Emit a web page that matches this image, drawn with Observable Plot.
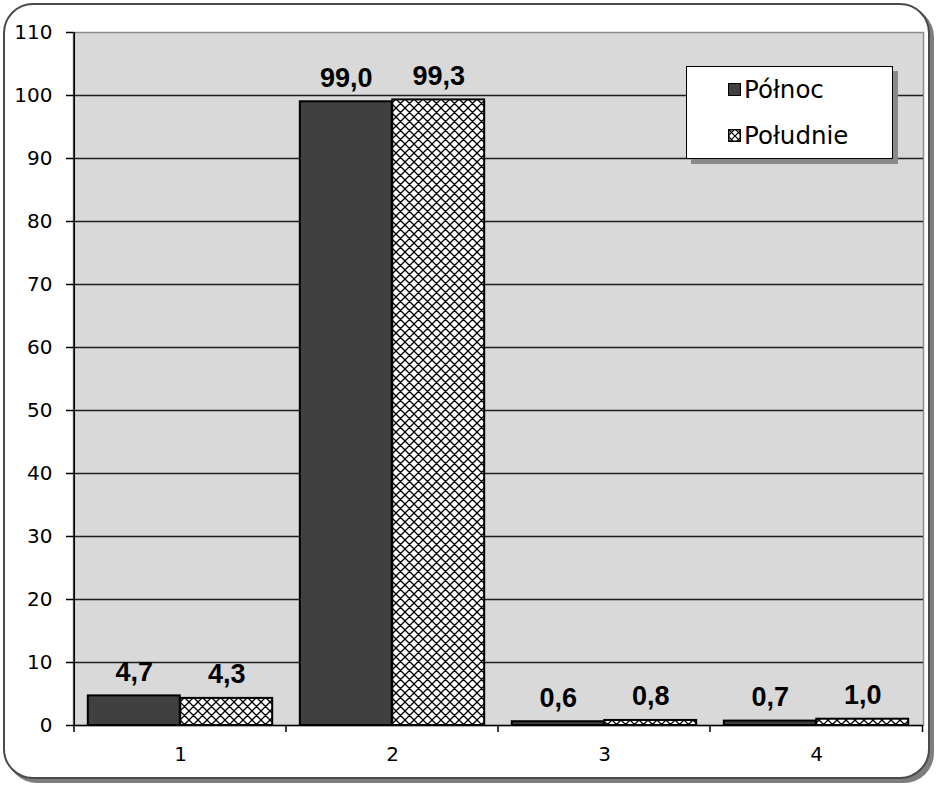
<!DOCTYPE html>
<html>
<head>
<meta charset="utf-8">
<script src="https://cdn.jsdelivr.net/npm/d3@7"></script>
<script src="https://cdn.jsdelivr.net/npm/@observablehq/plot@0.6"></script>
<style>
  body { margin: 0; background: #fff; font-family: "DejaVu Sans", sans-serif; }
  #wrap { position: relative; width: 941px; height: 789px; overflow: hidden; }
  #frame { position: absolute; left: 3px; top: 3px; width: 927px; height: 776px; box-sizing: border-box;
           border: 2px solid #4a4a4a; border-radius: 30px; background: #fff; box-shadow: 4px 4px 0 #7d7d7d; }
  #chart { position: absolute; left: 0; top: 0; }
  #legend { position: absolute; left: 686px; top: 66px; width: 207px; height: 93px; box-sizing: border-box;
            background: #fff; border: 1.5px solid #000; box-shadow: 5px 5px 0 #8a8a8a; }
  .row { position: absolute; left: 41px; height: 30px; display: flex; align-items: center;
         font-size: 24.5px; color: #000; }
  .sw { width: 13px; height: 13px; box-sizing: border-box; border: 1.5px solid #000; margin-right: 3px; }
</style>
</head>
<body>
<div id="wrap">
  <div id="frame"></div>
  <div id="chart"></div>
  <div id="legend"></div>
</div>
<script>
// ---- data ----
const categories = ["1", "2", "3", "4"];
const series = ["Północ", "Południe"];
const polnoc = [4.7, 99.0, 0.6, 0.7];
const poludnie = [4.3, 99.3, 0.8, 1.0];
const yTicks = [0, 10, 20, 30, 40, 50, 60, 70, 80, 90, 100, 110];

const data = [];
categories.forEach((c, i) => {
  data.push({cat: c, series: series[0], value: polnoc[i]});
  data.push({cat: c, series: series[1], value: poludnie[i]});
});

// ---- layout ----
const W = 941, H = 789, ml = 73, mr = 18, mt = 32, mb = 64;
const step = (W - ml - mr) / categories.length;
const gap = step * 0.065;
const barW = (step - 2 * gap) / 2;
const fmt = v => d3.format(".1f")(v).replace(".", ",");

const north = data.filter(d => d.series === series[0]);
const south = data.filter(d => d.series === series[1]);

const plot = Plot.plot({
  width: W, height: H,
  marginLeft: ml, marginRight: mr, marginTop: mt, marginBottom: mb,
  style: {background: "transparent", fontFamily: "'DejaVu Sans', sans-serif", fontSize: "20px", color: "#000"},
  x: {domain: categories, padding: 0, label: null, axis: null},
  y: {domain: [0, 110], label: null, axis: null},
  marks: [
    Plot.frame({fill: "#d9d9d9", stroke: "#8c8c8c", strokeWidth: 1.5}),
    Plot.ruleY(yTicks.filter(t => t > 0 && t < 110), {stroke: "#1e1e1e", strokeWidth: 1.4}),
    Plot.barY(north, {x: "cat", y: "value", fill: "#404040", stroke: "#000", strokeWidth: 2,
      insetLeft: gap, insetRight: gap + barW}),
    Plot.barY(south, {x: "cat", y: "value", fill: "url(#xhatch)", stroke: "#000", strokeWidth: 2,
      insetLeft: gap + barW, insetRight: gap}),
    Plot.ruleY([0], {stroke: "#000", strokeWidth: 1.6}),
    Plot.ruleX([categories[0]], {dx: -step / 2, y1: 0, y2: 110, stroke: "#000", strokeWidth: 1.6}),
    Plot.axisY({ticks: yTicks, tickSize: 7, tickPadding: 14, fontSize: 20, label: null,
      tickFormat: d => String(d), stroke: "#000", strokeWidth: 1.5}),
    Plot.axisX({tickSize: 0, tickPadding: 21, fontSize: 20, label: null}),
    Plot.text(north, {x: "cat", y: "value", text: d => fmt(d.value), dx: -(barW / 2), dy: -15,
      lineAnchor: "bottom", fontSize: 27, fontWeight: "bold", fill: "#000",
      fontFamily: "'Liberation Sans', Arial, sans-serif"}),
    Plot.text(south, {x: "cat", y: "value", text: d => fmt(d.value), dx: barW / 2, dy: -15,
      lineAnchor: "bottom", fontSize: 27, fontWeight: "bold", fill: "#000",
      fontFamily: "'Liberation Sans', Arial, sans-serif"})
  ]
});

// crosshatch pattern
const svg = d3.select(plot);
const defs = svg.insert("defs", ":first-child");
const pat = defs.append("pattern").attr("id", "xhatch").attr("patternUnits", "userSpaceOnUse")
  .attr("width", 9).attr("height", 9);
pat.append("rect").attr("width", 9).attr("height", 9).attr("fill", "#fff");
pat.append("path").attr("d", "M0,0L9,9M9,0L0,9M-1,8L1,10M8,-1L10,1").attr("stroke", "#000").attr("stroke-width", 1.3);

// category boundary ticks on the x axis
const xs = plot.scale("x"), ys = plot.scale("y");
const y0 = ys.apply(0);
const bounds = categories.map(c => xs.apply(c)).concat([xs.apply(categories[categories.length - 1]) + step]);
svg.append("g").selectAll("line").data(bounds).join("line")
  .attr("x1", d => d).attr("x2", d => d).attr("y1", y0).attr("y2", y0 + 7)
  .attr("stroke", "#000").attr("stroke-width", 1.5);

document.getElementById("chart").appendChild(plot);

// legend
const legend = document.getElementById("legend");
legend.innerHTML = `
  <div class="row" style="top:7px"><div class="sw" style="background:#404040"></div>${series[0]}</div>
  <div class="row" style="top:53px"><svg class="sw" width="13" height="13" style="border:none;padding:0">
    <defs><pattern id="xh2" patternUnits="userSpaceOnUse" width="7" height="7">
      <rect width="7" height="7" fill="#fff"/><path d="M0,0L7,7M7,0L0,7" stroke="#000" stroke-width="1.2"/></pattern></defs>
    <rect x="0.75" y="0.75" width="11.5" height="11.5" fill="url(#xh2)" stroke="#000" stroke-width="1.5"/></svg>${series[1]}</div>
`;
</script>
</body>
</html>
